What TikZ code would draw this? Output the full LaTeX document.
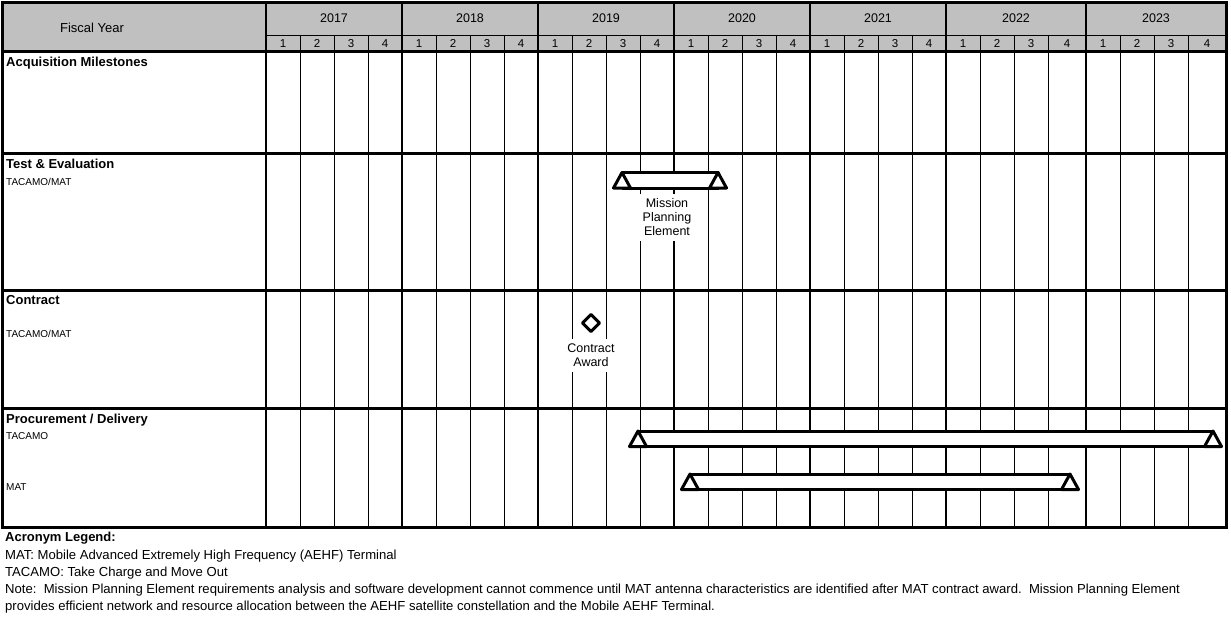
\documentclass[tikz,border=0pt]{standalone}
\usepackage{fontspec}
\setmainfont{Liberation Sans}
\definecolor{hdrgray}{RGB}{192,192,192}
\tikzset{
  framerule/.style={line width=3pt},
  yearrule/.style={line width=2pt},
  quarterrule/.style={line width=1pt},
  yearlbl/.style={anchor=base, inner sep=0pt, font=\fontsize{12.5}{14}\selectfont},
  qlbl/.style={anchor=base, inner sep=0pt, font=\fontsize{11.5}{13}\selectfont},
  rowtitle/.style={anchor=base west, inner sep=0pt, font=\bfseries\fontsize{13}{15}\selectfont},
  rowsub/.style={anchor=base west, inner sep=0pt, font=\fontsize{10}{12}\selectfont},
  legend/.style={anchor=base west, inner sep=0pt, font=\fontsize{13.1}{15}\selectfont},
  tag/.style={anchor=north, align=center, fill=white, inner xsep=3pt, inner ysep=5pt,
    font=\fontsize{12.5}{14}\selectfont},
  mstone/.style={line width=3pt, fill=white, line join=round},
}
\newcommand{\milestone}[2]{\draw[mstone] (#1,#2) -- ++(-8.5,15.5) -- ++(17,0) -- cycle;}
\begin{document}
\begin{tikzpicture}[x=1pt,y=-1pt]
  \useasboundingbox (0,0) rectangle (1231,641);
  % header band
  \fill[hdrgray] (2,2) rectangle (1226,51);
  % grid
  \foreach \xa in {266,402,538,674,810,946,1086}{
    \draw[quarterrule] (\xa+34,35) -- (\xa+34,527)
      (\xa+68,35) -- (\xa+68,527)
      (\xa+102,35) -- (\xa+102,527);
  }
  \draw[quarterrule] (266,35) -- (1226,35);
  \foreach \xa in {266,402,538,674,810,946,1086}
    \draw[yearrule] (\xa,2) -- (\xa,527);
  \begin{scope}[framerule]
    \draw (2,51) -- (1226,51);
    \draw (2,153) -- (1226,153);
    \draw (2,290) -- (1226,290);
    \draw (2,408) -- (1226,408);
    \draw (2,2) rectangle (1226,527);
  \end{scope}
  % header texts
  \draw
    (92,32) node[yearlbl, font=\fontsize{13}{15}\selectfont] (fy){Fiscal Year}
    (334,22.7) node[yearlbl] (y2017){2017}
    (470,22.7) node[yearlbl] (y2018){2018}
    (606,22.7) node[yearlbl] (y2019){2019}
    (742,22.7) node[yearlbl] (y2020){2020}
    (878,22.7) node[yearlbl] (y2021){2021}
    (1016,22.7) node[yearlbl] (y2022){2022}
    (1156,22.7) node[yearlbl] (y2023){2023};
  \foreach \yr/\xa/\xb in {2017/266/402,2018/402/538,2019/538/674,2020/674/810,
      2021/810/946,2022/946/1086,2023/1086/1226}{
    \pgfmathsetmacro{\xd}{(\xa+102+\xb)/2}
    \draw
      (\xa+17,47.5) node[qlbl] (q\yr-1){1}
      (\xa+51,47.5) node[qlbl] (q\yr-2){2}
      (\xa+85,47.5) node[qlbl] (q\yr-3){3}
      (\xd,47.5) node[qlbl] (q\yr-4){4};
  }
  % row titles
  \draw
    (6,66.5) node[rowtitle] (acq){Acquisition Milestones}
    (6,168.3) node[rowtitle] (te){Test \& Evaluation}
    (6,185) node[rowsub] (te-sub){TACAMO/MAT}
    (6,304) node[rowtitle] (con){Contract}
    (6,337.7) node[rowsub] (con-sub){TACAMO/MAT}
    (6,423.3) node[rowtitle] (proc){Procurement / Delivery}
    (6,439.3) node[rowsub] (proc-tacamo){TACAMO}
    (6,490.7) node[rowsub] (proc-mat){MAT};
  % event labels
  \node[tag] (mpe) at (667,193.5) {Mission\\Planning\\Element};
  \node[tag] (award) at (591,339) {Contract\\Award};
  % bars and milestones
  \draw[mstone] (622,172.5) rectangle (718,188);
  \milestone{622}{172.5}
  \milestone{718}{172.5}
  \draw[mstone] (638,431) rectangle (1213,446.5);
  \milestone{638}{431}
  \milestone{1213}{431}
  \draw[mstone] (690,474) rectangle (1070,489.5);
  \milestone{690}{474}
  \milestone{1070}{474}
  \draw[mstone] (591,314.5) -- (599.5,323) -- (591,331.5) -- (582.5,323) -- cycle;
  % legend
  \draw
    (5,541.7) node[legend, font=\bfseries\fontsize{13}{15}\selectfont] (leg){Acronym Legend:}
    (5,559.3) node[legend] (leg-mat){MAT: Mobile Advanced Extremely High Frequency (AEHF) Terminal}
    (5,576) node[legend] (leg-tacamo){TACAMO: Take Charge and Move Out}
    (5,593.3) node[legend] (note1){Note:\ \ Mission Planning Element requirements analysis and software development cannot commence until MAT antenna characteristics are identified after MAT contract award.\ \ Mission Planning Element}
    (5,610) node[legend] (note2){provides efficient network and resource allocation between the AEHF satellite constellation and the Mobile AEHF Terminal.};
\end{tikzpicture}
\end{document}
